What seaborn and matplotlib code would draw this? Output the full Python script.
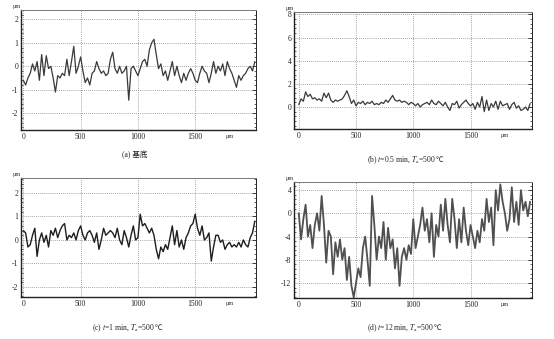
import numpy as np
import pandas as pd
import matplotlib
matplotlib.use("Agg")
import matplotlib.pyplot as plt
import seaborn as sns
from matplotlib.ticker import AutoMinorLocator

sns.set_theme(style="white")
plt.rcParams["font.family"] = ["Liberation Serif", "Noto Sans CJK SC", "DejaVu Sans"]
plt.rcParams["mathtext.fontset"] = "stix"

# sampling step along the traverse (um)
STEP = 20

# surface height profiles (um)
profile_a = [-0.6, -0.8, -0.5, -0.3, 0.1, -0.2, 0.2, -0.6, 0.5, -0.4, 0.45, -0.1, 0.0, -0.5,
             -1.1, -0.4, -0.5, -0.3, -0.4, 0.3, -0.4, 0.2, 0.85, -0.3, 0.0, 0.4, -0.2, -0.7,
             -0.5, -0.8, -0.3, -0.2, 0.2, -0.1, -0.3, -0.2, -0.4, -0.3, 0.3, 0.6, -0.1, -0.3,
             0.0, -0.3, -0.2, 0.0, -1.45, -0.1, 0.0, -0.2, -0.4, -0.1, 0.2, 0.3, 0.0, 0.7,
             1.0, 1.15, 0.5, -0.1, 0.1, -0.4, -0.2, -0.6, -0.2, 0.2, -0.4, 0.0, -0.4, -0.7,
             -0.3, -0.6, -0.3, -0.1, -0.3, -0.6, -0.7, -0.3, 0.0, -0.2, -0.3, -0.7, -0.3, 0.2,
             -0.3, 0.0, -0.2, 0.1, -0.4, 0.2, -0.1, -0.3, -0.6, -0.9, -0.4, -0.6, -0.4, -0.3,
             -0.1, 0.0, -0.2, 0.2]
profile_b = [0.2, 0.7, 0.5, 1.3, 0.9, 1.1, 0.7, 0.8, 0.6, 0.7, 0.5, 1.2, 0.8, 1.2, 0.6,
             0.4, 0.6, 0.5, 0.6, 0.7, 1.0, 1.4, 0.9, 0.3, 0.6, 0.1, 0.4, 0.3, 0.5, 0.2, 0.4,
             0.3, 0.5, 0.2, 0.3, 0.2, 0.4, 0.3, 0.6, 0.4, 0.7, 1.0, 0.6, 0.5, 0.6, 0.4, 0.5,
             0.4, 0.2, 0.4, 0.3, 0.1, 0.3, 0.0, 0.2, 0.3, 0.4, 0.2, 0.6, 0.3, 0.2, 0.5, 0.3,
             0.1, 0.4, 0.0, -0.3, 0.3, 0.2, 0.5, -0.1, 0.2, 0.4, 0.6, 0.3, 0.1, 0.3, -0.2,
             0.4, 0.0, 0.9, -0.4, 0.6, -0.3, 0.3, 0.0, 0.5, -0.2, 0.5, 0.1, 0.2, 0.3, -0.2,
             0.2, 0.4, -0.1, 0.1, -0.3, -0.2, 0.0, -0.3, 0.3]
profile_c = [0.4, 0.3, -0.3, -0.2, 0.2, 0.5, -0.7, 0.0, 0.3, -0.1, 0.2, -0.3, 0.4, 0.2,
             0.5, 0.1, 0.4, 0.6, 0.7, 0.0, 0.2, 0.1, 0.3, 0.0, 0.4, 0.6, 0.2, 0.0, 0.3, 0.4,
             0.2, -0.1, 0.3, -0.4, 0.0, 0.5, 0.2, 0.3, 0.4, 0.3, 0.1, 0.5, 0.0, -0.2, 0.4,
             0.1, -0.3, 0.2, 0.6, 0.0, 0.1, 1.1, 0.6, 0.7, 0.5, 0.3, 0.5, 0.2, -0.4, -0.8,
             -0.3, -0.5, -0.2, -0.4, 0.1, 0.6, -0.2, 0.4, -0.3, 0.0, -0.4, 0.1, 0.3, 0.6,
             0.7, 1.1, 0.5, 0.2, 0.6, 0.0, 0.1, 0.3, -0.9, -0.3, 0.2, 0.2, -0.1, 0.0, -0.4,
             -0.2, -0.1, -0.3, -0.2, -0.3, -0.1, -0.3, 0.0, -0.2, -0.3, 0.1, 0.3, 0.8]
profile_d = [0.0, -4.5, -1.0, 1.5, -4.0, -2.0, -6.0, -2.0, 0.0, -3.0, 3.0, -2.0, -8.5,
             -3.0, -4.0, -10.5, -5.0, -7.5, -4.5, -8.0, -6.0, -11.5, -7.5, -12.5, -14.5,
             -12.0, -9.5, -11.0, -6.0, -4.0, -8.0, -12.5, 3.0, -2.0, -8.0, -4.0, -6.0, -1.5,
             -8.0, -2.5, -6.0, -4.5, -9.5, -6.0, -12.5, -7.5, -6.0, -8.0, -5.5, -7.0, -1.0,
             -6.0, -4.0, -2.0, 1.0, -3.0, -1.0, -5.0, 0.0, -7.5, -2.0, -4.0, 1.5, -3.0, 2.5,
             -2.0, -5.0, 2.5, -1.0, -6.0, -1.0, -5.0, 1.0, -3.0, -5.5, -2.0, -4.0, -6.0,
             -3.0, -5.0, -1.0, -3.0, 2.5, -1.5, 1.0, -5.5, 4.0, 0.5, 5.0, 2.0, 0.0, -3.0,
             -1.0, 4.5, -1.5, 2.0, -2.0, 4.0, 0.5, 2.0, -0.5, 2.0]

x_ticks = [0, 500, 1000, 1500]
yticks_a = [-2, -1, 0, 1, 2]
yticks_b = [0, 2, 4, 6, 8]
yticks_c = [-2, -1, 0, 1, 2]
yticks_d = [-12, -8, -4, 0, 4]

captions = ["(a) 基底",
            r"(b) $t$=0.5 min, $T_\mathrm{a}$=500",
            r"(c) $t$=1 min, $T_\mathrm{a}$=500",
            r"(d) $t$=12 min, $T_\mathrm{a}$=500"]
caption_unit = [None, "℃", "℃", "℃"]

panels = [
    # profile, yticks, ylim, xlim, axes rect, line colour, line width, caption xy
    (profile_a, yticks_a, (-2.72, 2.4), (-20, 2030), [0.038, 0.6165, 0.424, 0.354], "#3a3a3a", 0.9, (0.244, 0.543)),
    (profile_b, yticks_b, (-1.9, 8.2), (-40, 2040), [0.531, 0.6195, 0.430, 0.345], "#3a3a3a", 0.9, (0.725, 0.528)),
    (profile_c, yticks_c, (-2.43, 2.64), (-20, 2030), [0.038, 0.1239, 0.424, 0.351], "#1e1e1e", 1.0, (0.222, 0.032)),
    (profile_d, yticks_d, (-14.6, 5.4), (-40, 2040), [0.531, 0.121, 0.430, 0.342], "#505050", 1.3, (0.722, 0.032)),
]

fig = plt.figure(figsize=(5.54, 3.39), dpi=100)
fig.patch.set_facecolor("white")

for (prof, yt, ylim, xlim, rect, col, lw, cap_xy), cap, unit in zip(panels, captions, caption_unit):
    ax = fig.add_axes(rect)
    df = pd.DataFrame({"x": np.arange(len(prof)) * STEP, "z": prof})
    sns.lineplot(data=df, x="x", y="z", ax=ax, color=col, linewidth=lw, estimator=None)
    ax.set_xlim(*xlim)
    ax.set_ylim(*ylim)
    ax.set_xticks(x_ticks)
    ax.set_xticklabels([str(v) for v in x_ticks])
    ax.set_yticks(yt)
    ax.set_yticklabels([str(v) for v in yt])
    ax.set_xlabel("")
    ax.set_ylabel("")
    ax.grid(True, color="#888888", linestyle=(0, (1, 1.5)), linewidth=0.6)
    ax.yaxis.set_minor_locator(AutoMinorLocator(5))
    ax.tick_params(axis="both", which="major", direction="in", length=3, width=0.6,
                   labelsize=5.5, pad=2, colors="#222222")
    ax.tick_params(axis="y", which="minor", direction="in", length=1.5, width=0.5,
                   left=True, right=True)
    ax.tick_params(axis="y", which="major", right=True)
    for side, sp in ax.spines.items():
        sp.set_visible(True)
        sp.set_color("#222222")
        sp.set_linewidth(1.0 if side in ("left", "bottom") else 0.7)
    ax.spines["top"].set_color("#777777")
    # unit labels on both axes
    ax.text(1800, -0.035, "μm", transform=ax.get_xaxis_transform(), fontsize=4.5,
            ha="center", va="top", color="#333333")
    ax.text(0.0, 1.01, "μm", transform=ax.transAxes, fontsize=4.5, ha="right",
            va="bottom", color="#333333")
    # panel caption; the degree sign comes from the CJK font, placed right after the text
    t = fig.text(cap_xy[0], cap_xy[1], cap, fontsize=5.5, ha="center", va="center",
                 color="#222222")
    if unit:
        ax.annotate(unit, xy=(1.0, 0.5), xycoords=t, xytext=(0.0, 0),
                    textcoords="offset points", ha="left", va="center",
                    fontsize=5.5, color="#222222", family=["Noto Sans CJK SC"],
                    annotation_clip=False)

fig.savefig("out.png", dpi=100, facecolor="white")
